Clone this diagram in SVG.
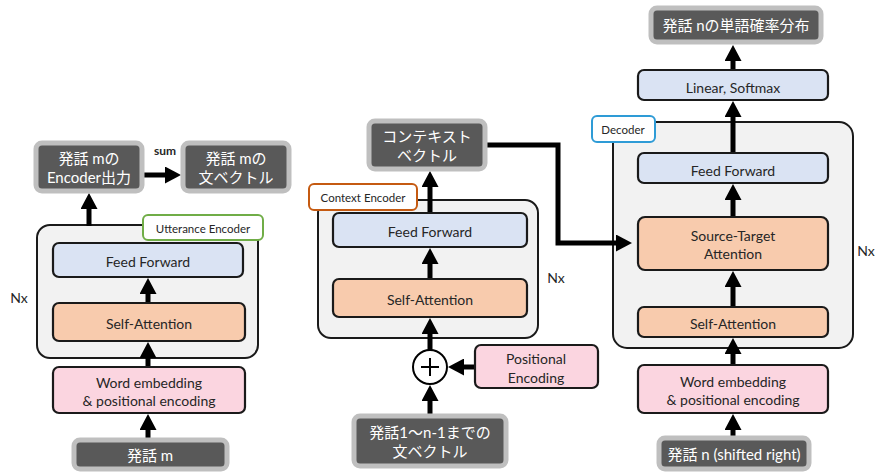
<svg xmlns="http://www.w3.org/2000/svg" width="875" height="472" viewBox="0 0 875 472">
<style>
text{font-family:"Lato","Noto Sans CJK JP",sans-serif;fill:#262626;text-anchor:middle;dominant-baseline:central}
.io rect{fill:#595959;stroke:#bfbfbf;stroke-width:5}
.io text{fill:#fff;font-size:15px}
.cont{fill:#f2f2f2;stroke:#1a1a1a;stroke-width:2}
.blk rect{stroke:#1a1a1a;stroke-width:2.2}
.blk text{font-size:14px}
.ff{fill:#dae3f3}.sa{fill:#f8cbad}.pk{fill:#fbd5e0}
.lbl rect{fill:#fff;stroke-width:2}
.lbl text{font-size:11.5px}
.nx{font-size:14px}
.c{stroke:#000;stroke-width:5;fill:none}
</style>
<defs>
<marker id="ah" markerUnits="userSpaceOnUse" markerWidth="17" markerHeight="17" refX="1" refY="8.5" orient="auto" viewBox="0 0 17 17">
<path d="M0,0 L16,8.5 L0,17 z" fill="#000"/>
</marker>
</defs>

<!-- containers -->
<g id="utterance-encoder">
<rect class="cont" x="37" y="225" width="221" height="133" rx="13"/>
<g class="lbl"><rect x="143" y="215" width="120" height="25" rx="5" stroke="#70ad47"/><text x="203" y="228">Utterance Encoder</text></g>
<text class="nx" x="19" y="297">Nx</text>
</g>
<g id="context-encoder">
<rect class="cont" x="318" y="200" width="220" height="138" rx="13"/>
<g class="lbl"><rect x="309" y="184" width="108" height="26" rx="5" stroke="#c55a11"/><text x="363" y="197">Context Encoder</text></g>
<text class="nx" x="556" y="277">Nx</text>
</g>
<g id="decoder">
<rect class="cont" x="613" y="122" width="240" height="226" rx="14"/>
<g class="lbl"><rect x="592" y="116" width="63" height="26" rx="5" stroke="#2e9bd6"/><text x="623" y="129">Decoder</text></g>
<text class="nx" x="866" y="250">Nx</text>
</g>

<!-- connectors -->
<g id="connectors" class="c" marker-end="url(#ah)">
<path d="M148,440 V429"/>
<path d="M148,367 V357"/>
<path d="M148,303 V293"/>
<path d="M89,226 V208"/>
<path d="M143,175 H166"/>
<path d="M430,415 V400"/>
<path d="M430,350 V333"/>
<path d="M430,279 V263"/>
<path d="M430,213 V186"/>
<path d="M475,367 H463"/>
<path d="M485,145 H558 V243 H617"/>
<path d="M733,437 V429"/>
<path d="M733,365 V353"/>
<path d="M733,307 V286"/>
<path d="M733,217 V199"/>
<path d="M733,153 V116"/>
<path d="M733,70 V60"/>
</g>

<!-- left column -->
<g id="enc-out" class="io"><rect x="36" y="143" width="106" height="48" rx="6"/><text x="89" y="158">発話 mの</text><text x="89" y="177">Encoder出力</text></g>
<g id="sum-label"><text x="165" y="150" style="font-size:12px;font-weight:bold">sum</text></g>
<g id="sent-vec-m" class="io"><rect x="183" y="143" width="106" height="48" rx="6"/><text x="236" y="158">発話 mの</text><text x="236" y="177">文ベクトル</text></g>
<g id="l-ff" class="blk"><rect class="ff" x="53" y="243" width="190" height="34" rx="6"/><text x="148" y="261">Feed Forward</text></g>
<g id="l-sa" class="blk"><rect class="sa" x="53" y="303" width="192" height="38" rx="6"/><text x="149" y="323">Self-Attention</text></g>
<g id="l-we" class="blk"><rect class="pk" x="53" y="367" width="192" height="46" rx="6"/><text x="149" y="382">Word embedding</text><text x="149" y="400">&amp; positional encoding</text></g>
<g id="l-in" class="io"><rect x="74" y="440" width="153" height="29" rx="6"/><text x="150" y="455">発話 m</text></g>

<!-- middle column -->
<g id="ctx-vec" class="io"><rect x="369" y="121" width="116" height="48" rx="6"/><text x="427" y="136">コンテキスト</text><text x="427" y="155">ベクトル</text></g>
<g id="m-ff" class="blk"><rect class="ff" x="333" y="213" width="194" height="34" rx="6"/><text x="430" y="231">Feed Forward</text></g>
<g id="m-sa" class="blk"><rect class="sa" x="333" y="279" width="194" height="38" rx="6"/><text x="430" y="299">Self-Attention</text></g>
<g id="plus"><circle cx="430" cy="367" r="17" fill="#fff" stroke="#000" stroke-width="2"/><path d="M421,367 H439 M430,358 V376" stroke="#000" stroke-width="2"/></g>
<g id="pos-enc" class="blk"><rect class="pk" x="475" y="345" width="123" height="43" rx="6"/><text x="536" y="358">Positional</text><text x="536" y="377">Encoding</text></g>
<g id="m-in" class="io"><rect x="354" y="416" width="152" height="50" rx="6"/><text x="430" y="432">発話1〜n-1までの</text><text x="430" y="451">文ベクトル</text></g>

<!-- right column -->
<g id="r-out" class="io"><rect x="651" y="8" width="170" height="34" rx="6"/><text x="736" y="25">発話 nの単語確率分布</text></g>
<g id="r-lin" class="blk"><rect class="ff" x="638" y="70" width="190" height="30" rx="6"/><text x="733" y="87">Linear, Softmax</text></g>
<g id="r-ff" class="blk"><rect class="ff" x="638" y="153" width="190" height="30" rx="6"/><text x="733" y="170">Feed Forward</text></g>
<g id="r-st" class="blk"><rect class="sa" x="638" y="217" width="190" height="53" rx="7"/><text x="733" y="235">Source-Target</text><text x="733" y="253">Attention</text></g>
<g id="r-sa" class="blk"><rect class="sa" x="638" y="307" width="190" height="30" rx="6"/><text x="733" y="323">Self-Attention</text></g>
<g id="r-we" class="blk"><rect class="pk" x="638" y="365" width="190" height="48" rx="6"/><text x="733" y="381">Word embedding</text><text x="733" y="399">&amp; positional encoding</text></g>
<g id="r-in" class="io"><rect x="659" y="438" width="150" height="31" rx="6"/><text x="734" y="454">発話 n (shifted right)</text></g>
</svg>
